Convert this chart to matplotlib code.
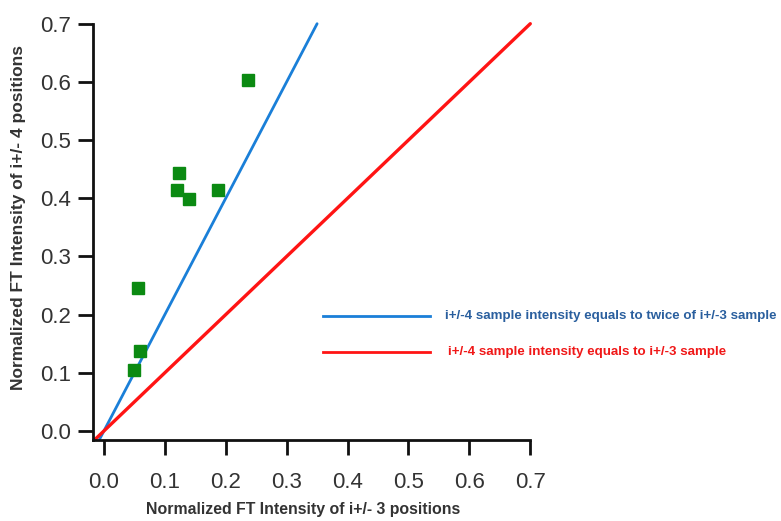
import matplotlib.pyplot as plt

# sample points
x_pts = [0.236, 0.124, 0.120, 0.140, 0.188, 0.056, 0.059, 0.049]
y_pts = [0.603, 0.443, 0.414, 0.398, 0.414, 0.246, 0.138, 0.105]

# reference lines
blue_x = [-0.007, 0.35]
blue_y = [-0.014, 0.70]
red_x = [-0.014, 0.70]
red_y = [-0.014, 0.70]

ticks = [0.0, 0.1, 0.2, 0.3, 0.4, 0.5, 0.6, 0.7]
blue_label = 'i+/-4 sample intensity equals to twice of i+/-3 sample'
red_label = 'i+/-4 sample intensity equals to i+/-3 sample'

plt.rcParams['font.family'] = ['Liberation Sans', 'DejaVu Sans']

fig = plt.figure(figsize=(7.81, 5.21), dpi=100)
ax = fig.add_axes([0.119, 0.1555, 0.560, 0.799])

ax.plot(blue_x, blue_y, color='#1a7fd8', lw=2, solid_capstyle='round', clip_on=False)
ax.plot(red_x, red_y, color='#ff1414', lw=2.4, solid_capstyle='round', clip_on=False)
ax.plot(x_pts, y_pts, 's', color='#0b8a12', markersize=8.5, ls='none')

ax.set_xlim(-0.018, 0.70)
ax.set_ylim(-0.0155, 0.70)
ax.set_xticks(ticks)
ax.set_yticks(ticks)
ax.set_xticklabels(['%.1f' % t for t in ticks])
ax.set_yticklabels(['%.1f' % t for t in ticks])

for s in ['top', 'right']:
    ax.spines[s].set_visible(False)
for s in ['left', 'bottom']:
    ax.spines[s].set_linewidth(2)
    ax.spines[s].set_color('#111111')
ax.tick_params(direction='out', length=11, width=2, color='#111111',
               labelsize=16, labelcolor='#333333', pad=5)
ax.tick_params(axis='x', pad=12)

xl = ax.set_xlabel('Normalized FT Intensity of i+/- 3 positions', fontsize=11.4,
                   fontweight='bold', color='#333333')
yl = ax.set_ylabel('Normalized FT Intensity of i+/- 4 positions', fontsize=12.5,
                   fontweight='bold', color='#333333')
ax.xaxis.set_label_coords(0.481, -0.168)
ax.yaxis.set_label_coords(-0.171, 0.534)
xl.set_va('center')
yl.set_va('center')

# hand-placed legend
fig.lines.append(plt.Line2D([323 / 781, 430 / 781], [1 - 316 / 521, 1 - 316 / 521],
                            transform=fig.transFigure, color='#1a7fd8', lw=2))
fig.lines.append(plt.Line2D([323 / 781, 430 / 781], [1 - 352 / 521, 1 - 352 / 521],
                            transform=fig.transFigure, color='#ff1414', lw=2))
fig.text(445 / 781, 1 - 316 / 521, blue_label, color='#2a5f9e', fontsize=9.6,
         fontweight='bold', va='center', ha='left')
fig.text(448 / 781, 1 - 352 / 521, red_label, color='#f01818', fontsize=9.6,
         fontweight='bold', va='center', ha='left')

fig.savefig('out.png', dpi=100)
